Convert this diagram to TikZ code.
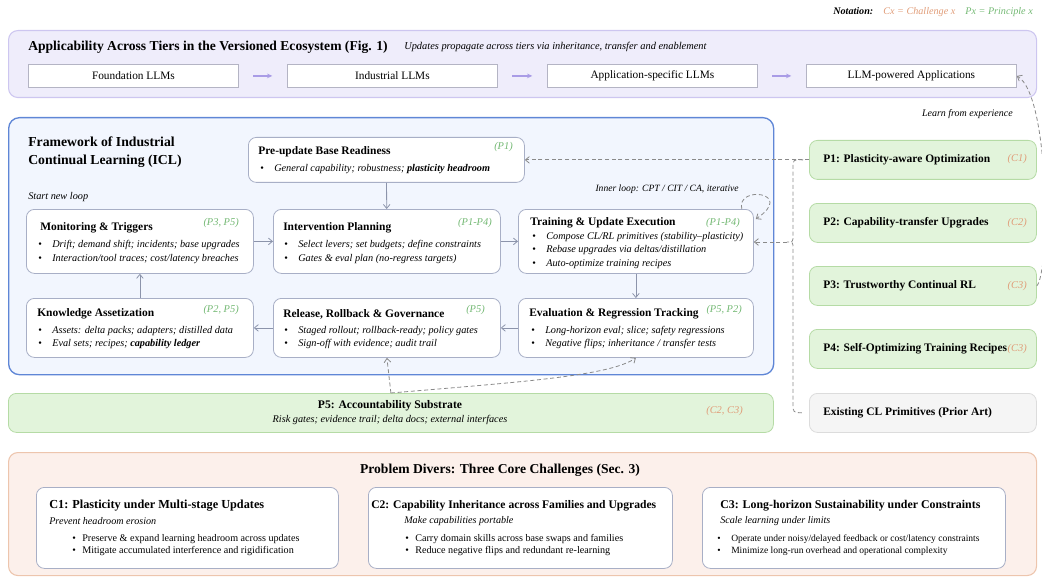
\documentclass[tikz,border=0pt]{standalone}
\usepackage{fontspec}
\setmainfont{Liberation Serif}
\usetikzlibrary{arrows.meta}
\definecolor{tierfill}{HTML}{EFEDFB}
\definecolor{tierline}{HTML}{CDC6F0}
\definecolor{tierarrow}{HTML}{A99CE6}
\definecolor{tierbox}{HTML}{B4B4C4}
\definecolor{fwfill}{HTML}{F2F6FE}
\definecolor{fwline}{HTML}{5F86D6}
\definecolor{cardline}{HTML}{A8AFC6}
\definecolor{arrowgray}{HTML}{8C94AB}
\definecolor{dashgray}{HTML}{8A8A8A}
\definecolor{pfill}{HTML}{E2F4DB}
\definecolor{pline}{HTML}{B5DBA5}
\definecolor{pgreen}{HTML}{72B872}
\definecolor{corange}{HTML}{E09C78}
\definecolor{exfill}{HTML}{F5F5F5}
\definecolor{exline}{HTML}{DCDCDC}
\definecolor{botfill}{HTML}{FCF0EB}
\definecolor{botline}{HTML}{EDC5AD}
\newcommand\dotitem[1]{\makebox[10.5pt][l]{\upshape\textbullet}#1}
\newcommand\dotitemb[1]{\makebox[7.5pt][l]{\upshape\textbullet}#1}
\begin{document}
\begin{tikzpicture}[x=0.75pt,y=-0.75pt,
  panel/.style={anchor=north west, inner sep=0pt, rounded corners=6pt},
  card/.style={panel, draw=cardline, fill=white, line width=0.6pt},
  tierbx/.style={anchor=north west, inner sep=0pt, draw=tierbox, fill=white, line width=0.6pt,
     minimum width=210*0.75pt, minimum height=23*0.75pt, font=\fontsize{8.5}{10}\selectfont},
  pbox/.style={panel, draw=pline, fill=pfill, line width=0.6pt, minimum width=227*0.75pt, minimum height=39*0.75pt},
  txt/.style={anchor=west, inner sep=0pt, text=black},
  ttl/.style={txt, font=\fontsize{8.6}{10}\selectfont\bfseries},
  bul/.style={txt, font=\fontsize{7.7}{9}\selectfont\itshape},
  cbul/.style={txt, font=\fontsize{7.6}{9}\selectfont},
  plab/.style={txt, anchor=east, font=\fontsize{7.8}{9}\selectfont\itshape, text=pgreen},
  clab/.style={txt, anchor=east, font=\fontsize{7.8}{9}\selectfont\itshape, text=corange},
  flow/.style={draw=arrowgray, line width=0.6pt, -{Straight Barb[length=3pt,width=5pt]}},
  dsh/.style={draw=dashgray, line width=0.6pt, dash pattern=on 3pt off 2pt},
  dsha/.style={dsh, -{Straight Barb[length=3pt,width=5pt]}},
  tierarr/.style={draw=tierarrow, line width=1pt, -{Stealth[length=4pt,width=3.5pt]}, shorten <=11pt, shorten >=11pt}
]
\useasboundingbox (0,0) rectangle (1042,581);

% notation
\node[txt, anchor=east, font=\fontsize{7.6}{9}\selectfont] (notation) at (1033,12)
  {\textbf{\textit{Notation:}}\quad\textcolor{corange}{\textit{Cx = Challenge x}}\quad\textcolor{pgreen}{\textit{Px = Principle x}}};

% tiers panel
\node[panel, draw=tierline, fill=tierfill, line width=0.8pt, rounded corners=7pt,
  minimum width=1028*0.75pt, minimum height=67*0.75pt] (tiers) at (8,30) {};
\node[txt, font=\fontsize{10.2}{12}\selectfont\bfseries] (tiersT) at (28,47)
  {Applicability Across Tiers in the Versioned Ecosystem (Fig. 1)};
\node[txt, font=\fontsize{7.8}{9}\selectfont\itshape] (tiersS) at (404,47)
  {Updates propagate across tiers via inheritance, transfer and enablement};
\node[tierbx] (f1) at (28,64) {Foundation LLMs};
\node[tierbx] (f2) at (287,64) {Industrial LLMs};
\node[tierbx] (f3) at (547,64) {Application-specific LLMs};
\node[tierbx] (f4) at (806,64) {LLM-powered Applications};
\draw[tierarr] (f1) -- (f2);
\draw[tierarr] (f2) -- (f3);
\draw[tierarr] (f3) -- (f4);
\node[txt, anchor=east, font=\fontsize{7.5}{9}\selectfont\itshape] (learn) at (1013,114) {Learn from experience};

% framework panel
\node[panel, draw=fwline, fill=fwfill, line width=1pt, rounded corners=8pt,
  minimum width=765*0.75pt, minimum height=257*0.75pt] (fw) at (8,117) {};
\node[txt, align=left, font=\fontsize{10.3}{13.5}\selectfont\bfseries] (fwT) at (28,152)
  {Framework of Industrial\\Continual Learning (ICL)};
\node[txt, font=\fontsize{7.7}{9}\selectfont\itshape] (startloop) at (28,197) {Start new loop};
\node[txt, anchor=east, font=\fontsize{7.2}{9}\selectfont\itshape] (inner) at (739,189) {Inner loop: CPT / CIT / CA, iterative};

% cards
\node[card, minimum width=276*0.75pt, minimum height=45*0.75pt] (pre) at (248,137) {};
\node[card, minimum width=227*0.75pt, minimum height=64*0.75pt] (mon) at (26,209) {};
\node[card, minimum width=227*0.75pt, minimum height=64*0.75pt] (int) at (273,209) {};
\node[card, minimum width=235*0.75pt, minimum height=64*0.75pt] (tr) at (518,209) {};
\node[card, minimum width=227*0.75pt, minimum height=59*0.75pt] (kn) at (26,298) {};
\node[card, minimum width=227*0.75pt, minimum height=59*0.75pt] (rel) at (273,298) {};
\node[card, minimum width=235*0.75pt, minimum height=59*0.75pt] (ev) at (518,298) {};

\node[ttl] (preT) at (258,152) {Pre-update Base Readiness};
\node[plab] (preP) at (513,147) {(P1)};
\node[bul] (preB) at (260,169) {\dotitem{General capability; robustness; \textbf{plasticity headroom}}};

\node[ttl] (monT) at (40,228) {Monitoring \& Triggers};
\node[plab] (monP) at (239,223) {(P3, P5)};
\node[bul] (monB1) at (38,245) {\dotitem{Drift; demand shift; incidents; base upgrades}};
\node[bul] (monB2) at (38,259) {\dotitem{Interaction/tool traces; cost/latency breaches}};

\node[ttl] (intT) at (283,228) {Intervention Planning};
\node[plab] (intP) at (492,223) {(P1-P4)};
\node[bul] (intB1) at (284,245) {\dotitem{Select levers; set budgets; define constraints}};
\node[bul] (intB2) at (284,259) {\dotitem{Gates \& eval plan (no-regress targets)}};

\node[ttl] (trT) at (530,223) {Training \& Update Execution};
\node[plab] (trP) at (740,223) {(P1-P4)};
\node[bul] (trB1) at (532,237) {\dotitem{Compose CL/RL primitives (stability--plasticity)}};
\node[bul] (trB2) at (532,250) {\dotitem{Rebase upgrades via deltas/distillation}};
\node[bul] (trB3) at (532,264) {\dotitem{Auto-optimize training recipes}};

\node[ttl] (knT) at (37,314) {Knowledge Assetization};
\node[plab] (knP) at (239,310) {(P2, P5)};
\node[bul] (knB1) at (38,331) {\dotitem{Assets: delta packs; adapters; distilled data}};
\node[bul] (knB2) at (38,344) {\dotitem{Eval sets; recipes; \textbf{capability ledger}}};

\node[ttl] (relT) at (283,314) {Release, Rollback \& Governance};
\node[plab] (relP) at (485,310) {(P5)};
\node[bul] (relB1) at (284,331) {\dotitem{Staged rollout; rollback-ready; policy gates}};
\node[bul] (relB2) at (284,344) {\dotitem{Sign-off with evidence; audit trail}};

\node[ttl] (evT) at (529,314) {Evaluation \& Regression Tracking};
\node[plab] (evP) at (742,310) {(P5, P2)};
\node[bul] (evB1) at (531,331) {\dotitem{Long-horizon eval; slice; safety regressions}};
\node[bul] (evB2) at (531,344) {\dotitem{Negative flips; inheritance / transfer tests}};

% solid flow
\draw[flow] (pre) -- (int);
\draw[flow] (mon) -- (int);
\draw[flow] (int) -- (tr);
\draw[flow] (tr) -- (ev);
\draw[flow] (ev) -- (rel);
\draw[flow] (rel) -- (kn);
\draw[flow] (kn) -- (mon);

% self loop
\draw[dsha] ([xshift=-9pt]tr.north east) .. controls +(-4.5pt,18pt) and +(30pt,20pt) .. ([xshift=1.5pt,yshift=-7.5pt]tr.north east);

% principle boxes
\node[pbox] (p1) at (809,140) {};
\node[pbox] (p2) at (809,203) {};
\node[pbox] (p3) at (809,266) {};
\node[pbox] (p4) at (809,329) {};
\node[panel, draw=exline, fill=exfill, line width=0.6pt, minimum width=227*0.75pt, minimum height=39*0.75pt] (ex) at (809,393) {};
\node[ttl] (p1T) at (823,159.5) {P1: Plasticity-aware Optimization};
\node[clab] (p1C) at (1027,159.5) {(C1)};
\node[ttl] (p2T) at (823,222.5) {P2: Capability-transfer Upgrades};
\node[clab] (p2C) at (1027,222.5) {(C2)};
\node[ttl] (p3T) at (823,285.5) {P3: Trustworthy Continual RL};
\node[clab] (p3C) at (1027,285.5) {(C3)};
\node[ttl] (p4T) at (823,348.5) {P4: Self-Optimizing Training Recipes};
\node[clab] (p4C) at (1027,348.5) {(C3)};
\node[ttl] (exT) at (823,412.5) {Existing CL Primitives (Prior Art)};

% P5 substrate
\node[panel, draw=pline, fill=pfill, line width=0.6pt, minimum width=765*0.75pt, minimum height=39*0.75pt] (p5) at (8,393) {};
\node[txt, anchor=center, font=\fontsize{8.7}{10}\selectfont\bfseries] (p5T) at (390,405.5) {P5: Accountability Substrate};
\node[txt, anchor=center, font=\fontsize{7.7}{9}\selectfont\itshape] (p5S) at (390,420) {Risk gates; evidence trail; delta docs; external interfaces};
\node[clab] (p5C) at (743,411) {(C2, C3)};

% dashed links
\draw[dsha] (p1) -- (pre);
\coordinate (brtip) at (787,242);
\draw[dsh] ([xshift=-4.5pt]p1.west) .. controls (793,159.5) .. (793,168) -- (793,235)
   .. controls (793,242) .. (brtip) .. controls (793,242) .. (793,249) -- (793,404)
   .. controls (793,412.5) .. ([xshift=-4.5pt]ex.west);
\draw[dsha] (brtip) -- (tr.east |- brtip);
\draw[dsha] (p5.north) -- (rel.south);
\draw[dsha] (p5.north) .. controls (520,382) and (610,376) .. (ev.south);
\draw[dsha] (p3.east) .. controls (1050,272) and (1050,95) .. (f4.east);

% challenges
\node[panel, draw=botline, fill=botfill, line width=0.8pt, rounded corners=7pt,
  minimum width=1028*0.75pt, minimum height=123*0.75pt] (bot) at (8,452) {};
\node[txt, anchor=center, font=\fontsize{10.2}{12}\selectfont\bfseries] (botT) at (500,470)
  {Problem Divers: Three Core Challenges (Sec. 3)};
\node[card, minimum width=302*0.75pt, minimum height=81*0.75pt] (c1) at (36,487) {};
\node[card, minimum width=304*0.75pt, minimum height=81*0.75pt] (c2) at (368,487) {};
\node[card, minimum width=303*0.75pt, minimum height=81*0.75pt] (c3) at (702,487) {};

\node[txt, font=\fontsize{9.2}{11}\selectfont\bfseries] (c1T) at (49,506) {C1: Plasticity under Multi-stage Updates};
\node[txt, font=\fontsize{7.6}{9}\selectfont\itshape] (c1S) at (49,521) {Prevent headroom erosion};
\node[cbul] (c1B1) at (72,539) {\dotitemb{Preserve \& expand learning headroom across updates}};
\node[cbul] (c1B2) at (72,551) {\dotitemb{Mitigate accumulated interference and rigidification}};

\node[txt, font=\fontsize{8.7}{11}\selectfont\bfseries] (c2T) at (371,506) {C2: Capability Inheritance across Families and Upgrades};
\node[txt, font=\fontsize{7.6}{9}\selectfont\itshape] (c2S) at (404,521) {Make capabilities portable};
\node[cbul] (c2B1) at (405,539) {\dotitemb{Carry domain skills across base swaps and families}};
\node[cbul] (c2B2) at (405,551) {\dotitemb{Reduce negative flips and redundant re-learning}};

\node[txt, font=\fontsize{8.9}{11}\selectfont\bfseries] (c3T) at (720,506) {C3: Long-horizon Sustainability under Constraints};
\node[txt, font=\fontsize{7.6}{9}\selectfont\itshape] (c3S) at (720,521) {Scale learning under limits};
\node[cbul, font=\fontsize{7.15}{9}\selectfont] (c3B1) at (717,539) {\dotitem{Operate under noisy/delayed feedback or cost/latency constraints}};
\node[cbul, font=\fontsize{7.15}{9}\selectfont] (c3B2) at (717,551) {\dotitem{Minimize long-run overhead and operational complexity}};
\end{tikzpicture}
\end{document}
